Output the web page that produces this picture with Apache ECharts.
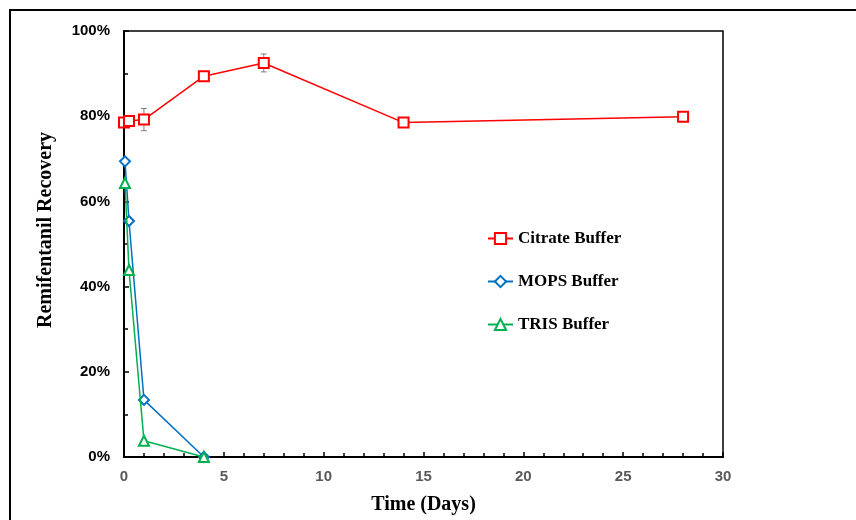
<!DOCTYPE html>
<html>
<head>
<meta charset="utf-8">
<script src="https://cdn.jsdelivr.net/npm/echarts@6/dist/echarts.min.js"></script>
<style>
  html, body { margin: 0; padding: 0; background: #fff; }
  #frame { position: absolute; left: 9px; top: 9px; width: 847px; height: 511px;
           border-top: 2px solid #000; border-left: 2px solid #000; }
  #chart { position: absolute; left: 0; top: 0; width: 856px; height: 520px; }
</style>
</head>
<body>
<div id="frame"></div>
<div id="chart"></div>
<script>
// --- data ---
var seriesNames = ['Citrate Buffer', 'MOPS Buffer', 'TRIS Buffer'];

var citrateDays = [0, 0.25, 1, 4, 7, 14, 28];
var citrateVals = [78.5, 78.9, 79.2, 89.4, 92.5, 78.5, 79.9];
var citrateErr = [0.4, 0.6, 2.6, 0.7, 2.1, 0.4, 0.5];

var mopsDays = [0.05, 0.25, 1, 4];
var mopsVals = [69.4, 55.4, 13.4, 0];

var trisDays = [0.05, 0.25, 1, 4];
var trisVals = [64.3, 43.9, 3.8, 0];

var xTicks = [0, 5, 10, 15, 20, 25, 30];
var yTicks = [0, 20, 40, 60, 80, 100];

function pairs(xs, ys) {
  return xs.map(function(x, i) { return [x, ys[i]]; });
}

var errData = citrateDays.map(function(x, i) {
  return [x, citrateVals[i] - citrateErr[i], citrateVals[i] + citrateErr[i]];
});

var chart = echarts.init(document.getElementById('chart'), null, { renderer: 'canvas' });

var sans = '"Liberation Sans", Arial, sans-serif';
var serif = '"Liberation Serif", "Times New Roman", serif';

var option = {
  animation: false,
  grid: {
    left: 124, right: 133, top: 31, bottom: 62,
    show: true, borderColor: '#000', borderWidth: 1.5, backgroundColor: 'transparent'
  },
  legend: {
    orient: 'vertical',
    left: 482, top: 225,
    itemGap: 26,
    itemWidth: 25, itemHeight: 14,
    data: seriesNames,
    textStyle: { fontFamily: serif, fontWeight: 'bold', fontSize: 17, color: '#000' }
  },
  xAxis: {
    type: 'value',
    min: xTicks[0], max: xTicks[xTicks.length - 1], interval: 5,
    name: 'Time (Days)',
    nameLocation: 'middle',
    nameGap: 38,
    nameTextStyle: { fontFamily: serif, fontWeight: 'bold', fontSize: 20, color: '#000' },
    axisLine: { lineStyle: { color: '#000', width: 2 } },
    axisTick: { inside: true, length: 5, lineStyle: { color: '#000', width: 1.5 } },
    minorTick: { show: true, splitNumber: 5, length: 4, lineStyle: { color: '#000', width: 1.5 } },
    axisLabel: { fontFamily: sans, fontWeight: 'bold', fontSize: 15, color: '#595959', margin: 12 },
    splitLine: { show: false }
  },
  yAxis: {
    type: 'value',
    min: yTicks[0], max: yTicks[yTicks.length - 1], interval: 20,
    name: 'Remifentanil Recovery',
    nameLocation: 'middle',
    nameGap: 68,
    nameTextStyle: { fontFamily: serif, fontWeight: 'bold', fontSize: 20, color: '#000', padding: [0, 0, 0, 28] },
    axisLine: { lineStyle: { color: '#000', width: 2 } },
    axisTick: { inside: true, length: 5, lineStyle: { color: '#000', width: 1.5 } },
    minorTick: { show: true, splitNumber: 2, length: 4, lineStyle: { color: '#000', width: 1.5 } },
    axisLabel: { fontFamily: sans, fontWeight: 'bold', fontSize: 15, color: '#000', margin: 14, formatter: '{value}%' },
    splitLine: { show: false }
  },
  series: [
    {
      type: 'custom',
      name: 'err',
      data: errData,
      z: 1,
      renderItem: function(params, api) {
        var x = api.value(0);
        var lo = api.coord([x, api.value(1)]);
        var hi = api.coord([x, api.value(2)]);
        var w = 3;
        var st = { stroke: '#7f7f7f', lineWidth: 1 };
        return {
          type: 'group',
          children: [
            { type: 'line', shape: { x1: lo[0], y1: lo[1], x2: hi[0], y2: hi[1] }, style: st },
            { type: 'line', shape: { x1: lo[0] - w, y1: lo[1], x2: lo[0] + w, y2: lo[1] }, style: st },
            { type: 'line', shape: { x1: hi[0] - w, y1: hi[1], x2: hi[0] + w, y2: hi[1] }, style: st }
          ]
        };
      }
    },
    {
      name: seriesNames[0],
      type: 'line',
      data: pairs(citrateDays, citrateVals),
      symbol: 'emptyRect',
      symbolSize: 10,
      z: 3,
      lineStyle: { color: '#ff0000', width: 1.5 },
      itemStyle: { color: '#ff0000', borderWidth: 1.5 }
    },
    {
      name: seriesNames[1],
      type: 'line',
      data: pairs(mopsDays, mopsVals),
      symbol: 'emptyDiamond',
      symbolSize: 10,
      z: 3,
      lineStyle: { color: '#0070c0', width: 1.5 },
      itemStyle: { color: '#0070c0', borderWidth: 1.5 }
    },
    {
      name: seriesNames[2],
      type: 'line',
      data: pairs(trisDays, trisVals),
      symbol: 'emptyTriangle',
      symbolSize: 10,
      z: 4,
      lineStyle: { color: '#00b050', width: 1.5 },
      itemStyle: { color: '#00b050', borderWidth: 1.5 }
    }
  ]
};
chart.setOption(option);
</script>
</body>
</html>
